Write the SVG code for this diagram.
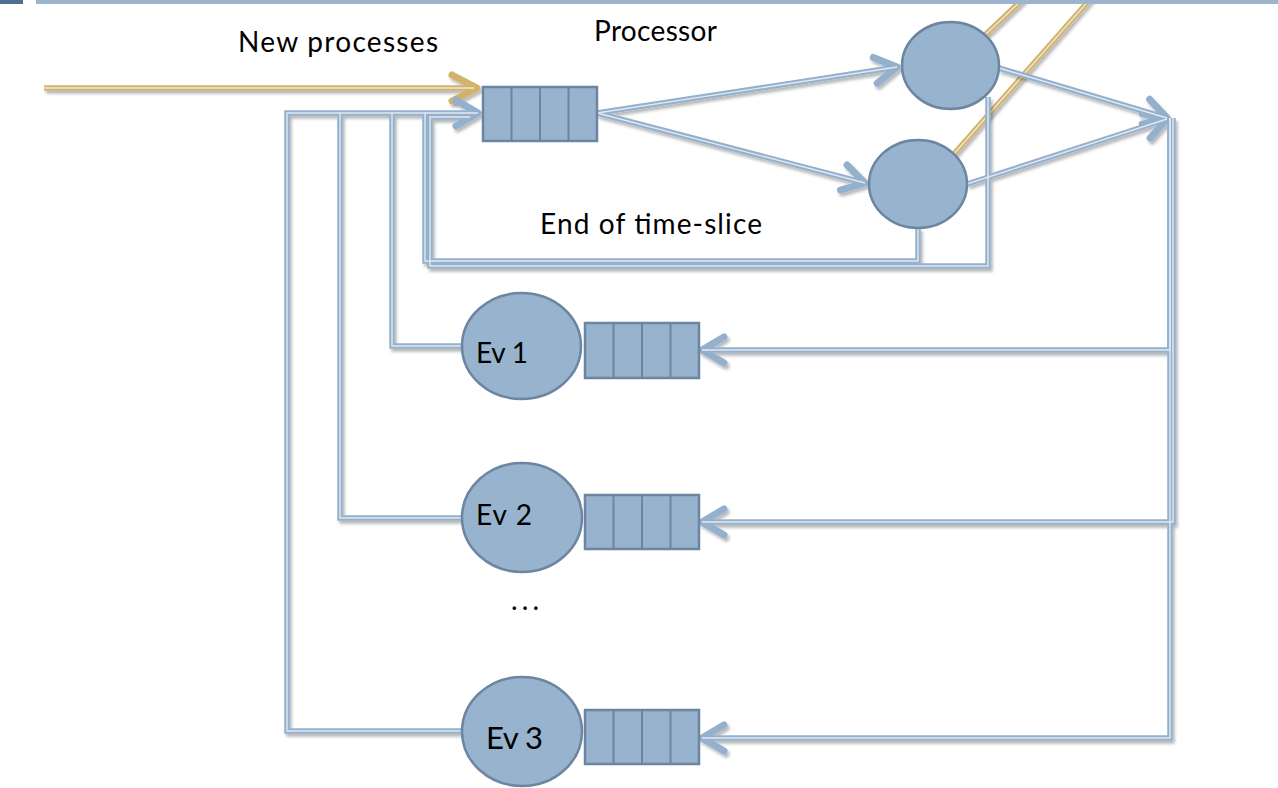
<svg xmlns="http://www.w3.org/2000/svg" xmlns:xlink="http://www.w3.org/1999/xlink" width="1278" height="788" viewBox="0 0 1278 788">
<style>
text{font-family:Lato,"Open Sans","Liberation Sans",sans-serif;fill:#000}
.lbl{font-size:28px}
.ev{font-size:28px}
.node{fill:#98b3cd;stroke:#6c85a0;stroke-width:2.5}
.cell{fill:none;stroke:#6c85a0;stroke-width:2}
.outer use{fill:none;stroke:#93b0cd;stroke-width:5.5;stroke-linejoin:miter}
.inner use{fill:none;stroke:#e2e8ee;stroke-width:1.4}
.outer use.arr{marker-end:url(#arrB)}
.gold{fill:none;stroke:#d3b36c;stroke-width:5.5}
.goldin{fill:none;stroke:#ece6d8;stroke-width:1.4}
</style>
<defs>
<filter id="sh" x="-5%" y="-5%" width="110%" height="110%">
<feDropShadow dx="2" dy="3" stdDeviation="1.5" flood-color="#000" flood-opacity="0.28"/>
</filter>
<marker id="arrB" markerUnits="userSpaceOnUse" orient="auto" overflow="visible" refX="0" refY="0" markerWidth="1" markerHeight="1">
<path d="M-22,-13 L0,0 L-22,13" fill="none" stroke="#93b0cd" stroke-width="7" stroke-linecap="round" stroke-linejoin="round"/>
</marker>
<marker id="arrG" markerUnits="userSpaceOnUse" orient="auto" overflow="visible" refX="0" refY="0" markerWidth="1" markerHeight="1">
<path d="M-25,-13 L0,0 L-25,13" fill="none" stroke="#d3b36c" stroke-width="7" stroke-linecap="round" stroke-linejoin="round"/>
</marker>
<path id="c-ev3" d="M462,731 H287 V113 H478"/>
<path id="c-ev2" d="M462,518 H340 V113"/>
<path id="c-ev1" d="M462,346 H392 V113"/>
<path id="c-fb2" d="M918,228 V261 H425 V113"/>
<path id="c-fb1" d="M988,97 V266 H430 V117 H470"/>
<path id="c-q1" d="M597,113 L897,67"/>
<path id="c-q2" d="M597,113 L865,183"/>
<path id="c-o1" d="M999,68 L1167,118"/>
<path id="c-o2" d="M967,184 L1167,119"/>
<path id="c-i1" d="M1170,118 V350 H702"/>
<path id="c-i2" d="M1173,118 V522 H702"/>
<path id="c-i3" d="M1170,118 V738 H702"/>
</defs>
<rect width="1278" height="788" fill="#fff"/>
<g id="connectors">
<g filter="url(#sh)">
<path class="gold" d="M44,88 L477,88" marker-end="url(#arrG)"/>
<path class="gold" d="M985,35 L1024,-2"/>
<path class="gold" d="M953,155 L1092,-3"/>
</g>
<path class="goldin" d="M44,88 L474,88"/>
<path class="goldin" d="M985,35 L1024,-2"/>
<path class="goldin" d="M953,155 L1092,-3"/>
<g class="outer" filter="url(#sh)">
<use xlink:href="#c-fb1"/>
<use xlink:href="#c-fb2"/>
<use xlink:href="#c-ev1"/>
<use xlink:href="#c-ev2"/>
<use class="arr" xlink:href="#c-ev3"/>
<use class="arr" xlink:href="#c-q1"/>
<use class="arr" xlink:href="#c-q2"/>
<use class="arr" xlink:href="#c-o1"/>
<use class="arr" xlink:href="#c-o2"/>
<use class="arr" xlink:href="#c-i1"/>
<use class="arr" xlink:href="#c-i2"/>
<use class="arr" xlink:href="#c-i3"/>
</g>
<g class="inner">
<use xlink:href="#c-fb1"/>
<use xlink:href="#c-fb2"/>
<use xlink:href="#c-ev1"/>
<use xlink:href="#c-ev2"/>
<use xlink:href="#c-ev3"/>
<use xlink:href="#c-q1"/>
<use xlink:href="#c-q2"/>
<use xlink:href="#c-o1"/>
<use xlink:href="#c-o2"/>
<use xlink:href="#c-i1"/>
<use xlink:href="#c-i2"/>
<use xlink:href="#c-i3"/>
</g>
</g>
<g id="ready-queue">
<rect class="node" x="483" y="87" width="114" height="54"/>
<path class="cell" d="M511.5,87 V141 M540,87 V141 M568.5,87 V141"/>
</g>
<g id="cpu1"><ellipse class="node" cx="950.5" cy="65.5" rx="48.5" ry="43.5"/></g>
<g id="cpu2"><ellipse class="node" cx="918" cy="184" rx="49" ry="44"/></g>
<g id="ev1">
<ellipse class="node" cx="521.5" cy="346" rx="59.5" ry="53"/>
<text class="ev" x="476" y="363" textLength="52" lengthAdjust="spacing">Ev 1</text>
</g>
<g id="ev1-queue">
<rect class="node" x="585" y="323" width="114" height="55"/>
<path class="cell" d="M613.5,323 V378 M642,323 V378 M670.5,323 V378"/>
</g>
<g id="ev2">
<ellipse class="node" cx="522" cy="517.5" rx="60" ry="54.5"/>
<text class="ev" x="476" y="525" textLength="56" lengthAdjust="spacing">Ev 2</text>
</g>
<g id="ev2-queue">
<rect class="node" x="585" y="495" width="114" height="54"/>
<path class="cell" d="M613.5,495 V549 M642,495 V549 M670.5,495 V549"/>
</g>
<g id="ev3">
<ellipse class="node" cx="522" cy="731.5" rx="60" ry="54.5"/>
<text class="ev" x="486" y="749" style="font-size:31px" textLength="57" lengthAdjust="spacing">Ev 3</text>
</g>
<g id="ev3-queue">
<rect class="node" x="585" y="710" width="114" height="54"/>
<path class="cell" d="M613.5,710 V764 M642,710 V764 M670.5,710 V764"/>
</g>
<text class="lbl" x="238" y="52" textLength="200" lengthAdjust="spacing">New processes</text>
<text class="lbl" x="594" y="41" textLength="123" lengthAdjust="spacing">Processor</text>
<text class="lbl" x="540" y="234" textLength="222" lengthAdjust="spacing">End of time-slice</text>
<text class="lbl" x="511" y="610" textLength="28" lengthAdjust="spacing">...</text>
<rect x="0" y="0" width="23" height="4" fill="#4f6e90"/>
<rect x="36" y="0" width="1242" height="4" fill="#9cb5cd"/>
</svg>
